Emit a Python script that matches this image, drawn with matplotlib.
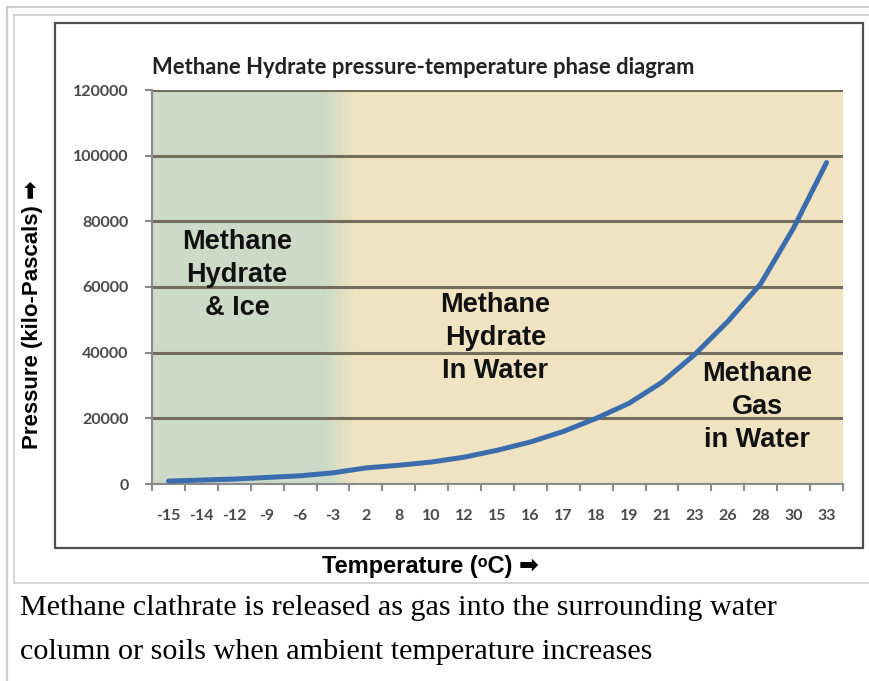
import numpy as np
import matplotlib.pyplot as plt
from matplotlib.lines import Line2D
from matplotlib.patches import Rectangle

temps = ["-15", "-14", "-12", "-9", "-6", "-3", "2", "8", "10", "12", "15",
         "16", "17", "18", "19", "21", "23", "26", "28", "30", "33"]
pressure = [900, 1200, 1500, 2000, 2500, 3400, 4900, 5700, 6700, 8200, 10300,
            12800, 16000, 20000, 24600, 31000, 39500, 49500, 61000, 78000, 97900]
yticks = [0, 20000, 40000, 60000, 80000, 100000, 120000]
n_ice = 6  # first six categories sit in the ice zone

W, H = 869, 681
def fx(px):
    return px / W
def fy(py):
    return 1 - py / H

fig = plt.figure(figsize=(W / 100, H / 100), dpi=100)

# page frames (wiki thumbnail look)
fig.add_artist(Line2D([fx(7), fx(7)], [fy(7), 0], color='#cccccc', lw=1.6))
fig.add_artist(Line2D([fx(7), 1], [fy(7), fy(7)], color='#cccccc', lw=1.6))
fig.add_artist(Line2D([fx(14), 1], [fy(15), fy(15)], color='#cfcfcf', lw=1.2))
fig.add_artist(Line2D([fx(14), fx(14)], [fy(15), fy(583)], color='#cfcfcf', lw=1.2))
fig.add_artist(Line2D([fx(14), 1], [fy(583), fy(583)], color='#cfcfcf', lw=1.2))
fig.add_artist(Rectangle((fx(55), fy(548)), fx(863) - fx(55), fy(23) - fy(548),
                         fill=False, ec='#505050', lw=1.6))

ax = fig.add_axes([fx(152), fy(484), fx(843) - fx(152), fy(90) - fy(484)])
x = list(range(len(temps)))
ax.set_facecolor('#efe3c1')
# green ice zone fading into the tan background
grad = np.ones((2, 60, 4))
grad[..., :3] = np.array([205, 218, 200]) / 255
grad[..., 3] = np.r_[np.ones(50), np.linspace(1, 0, 10)]
ax.imshow(grad, extent=(-0.5, n_ice - 0.3, 0, 120000), aspect='auto', zorder=0)
ax.set_axisbelow(True)
ax.yaxis.grid(True, color='#746c5c', lw=2.2)
ax.plot(x, pressure, color='#3a6cae', lw=3.6, solid_capstyle='round',
        solid_joinstyle='round', zorder=3)

ax.set_xlim(-0.5, len(temps) - 0.5)
ax.set_ylim(0, 120000)
ax.set_yticks(yticks)
ax.set_yticklabels([str(v) for v in yticks], fontsize=11.5, color='#4a4a4a',
                   family='Lato', fontweight='bold')
ax.set_xticks(x)
ax.set_xticklabels(temps, fontsize=11.5, color='#4a4a4a', family='Lato', fontweight='bold')
ax.set_xticks([i - 0.5 for i in range(len(temps) + 1)], minor=True)
ax.tick_params(axis='x', which='major', length=0, pad=18)
ax.tick_params(axis='x', which='minor', length=5, color='#8a8a8a', width=1.5, direction='out')
ax.tick_params(axis='y', length=5, color='#8a8a8a', width=1.5, pad=12)
for s in ['top', 'right']:
    ax.spines[s].set_visible(False)
for s in ['left', 'bottom']:
    ax.spines[s].set_color('#8a8a8a')
    ax.spines[s].set_linewidth(1.5)

lab = dict(fontsize=19.5, fontweight='bold', ha='center', va='center',
           linespacing=1.35, color='#111111', family='Liberation Sans', zorder=4)
ax.text(2.08, 63650, "Methane\nHydrate\n& Ice", **lab)
ax.text(9.93, 44470, "Methane\nHydrate\nIn Water", **lab)
ax.text(17.89, 23450, "Methane\nGas\nin Water", **lab)

fig.text(fx(152), fy(67), "Methane Hydrate pressure-temperature phase diagram",
         fontsize=15.8, fontweight='bold', family='Lato', color='#222222', va='center')
fig.text(fx(33), fy(315), "Pressure (kilo-Pascals) \u27a1", rotation=90,
         fontsize=16, fontweight='bold', family=['Liberation Sans', 'DejaVu Sans'],
         ha='center', va='center')
fig.text(fx(430), fy(567), "Temperature (\u1d52C) \u27a1",
         fontsize=17, fontweight='bold', family=['Liberation Sans', 'DejaVu Sans'],
         ha='center', va='center')

cap = dict(fontsize=21.7, family='Liberation Serif', color='black', va='center')
fig.text(fx(20), fy(608), "Methane clathrate is released as gas into the surrounding water", **cap)
fig.text(fx(20), fy(652), "column or soils when ambient temperature increases", **cap)

fig.savefig('out.png', dpi=100)
